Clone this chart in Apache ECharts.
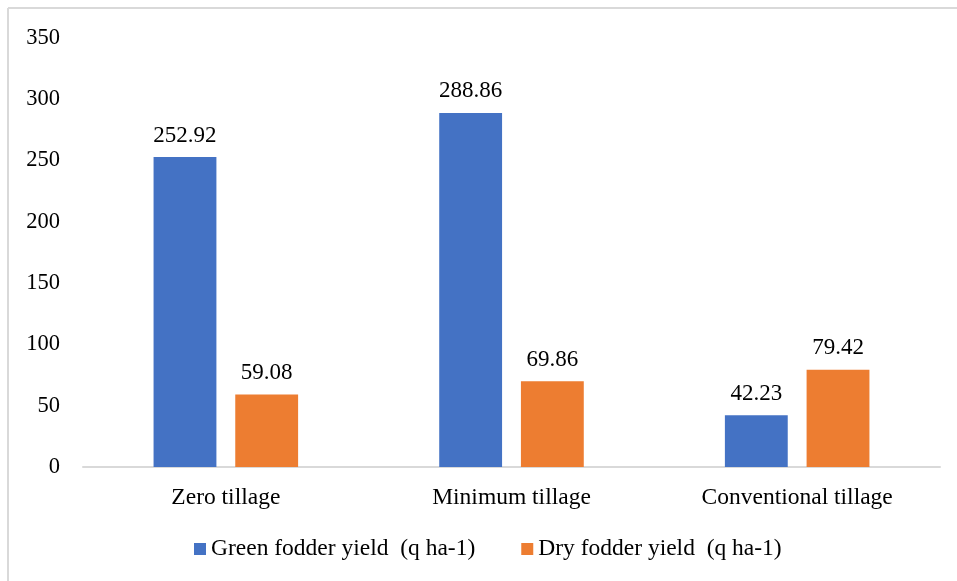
<!DOCTYPE html>
<html><head><meta charset="utf-8">
<script src="https://cdn.jsdelivr.net/npm/echarts@6/dist/echarts.min.js"></script>
<style>html,body{margin:0;padding:0;background:#fff}#c{width:957px;height:581px}</style>
</head><body><div id="c"></div>
<script>
const categories = ['Zero tillage', 'Minimum tillage', 'Conventional tillage'];
const greenYield = [252.92, 288.86, 42.23];
const dryYield = [59.08, 69.86, 79.42];
const seriesNames = ['Green fodder yield  (q ha-1)', 'Dry fodder yield  (q ha-1)'];
const yTicks = [0, 50, 100, 150, 200, 250, 300, 350];

const font = '"Liberation Serif", "Times New Roman", serif';
const chart = echarts.init(document.getElementById('c'), null, {renderer: 'canvas'});
chart.setOption({
  backgroundColor: '#fff',
  animation: false,
  textStyle: {fontFamily: font},
  graphic: [
    {type: 'line', shape: {x1: 8, y1: 8, x2: 957, y2: 8}, style: {stroke: '#d9d9d9', lineWidth: 2}},
    {type: 'line', shape: {x1: 8, y1: 8, x2: 8, y2: 581}, style: {stroke: '#d9d9d9', lineWidth: 2}}
  ],
  grid: {left: 83, right: 17, top: 38, bottom: 114, containLabel: false},
  legend: {
    top: 532, left: 189,
    itemWidth: 12, itemHeight: 12, itemGap: 46,
    icon: 'rect',
    textStyle: {fontFamily: font, fontSize: 23.5, color: '#000'},
    data: seriesNames
  },
  xAxis: {
    type: 'category', data: categories,
    axisLine: {lineStyle: {color: '#d9d9d9', width: 2}},
    axisTick: {show: false},
    axisLabel: {fontFamily: font, fontSize: 23.5, color: '#000', margin: 19}
  },
  yAxis: {
    type: 'value', min: yTicks[0], max: yTicks[yTicks.length - 1], interval: 50,
    axisLine: {show: false}, axisTick: {show: false},
    splitLine: {show: false},
    axisLabel: {fontFamily: font, fontSize: 22.5, color: '#000', margin: 23}
  },
  series: [
    {name: seriesNames[0], type: 'bar', data: greenYield, barWidth: '22%', barGap: '30%',
     itemStyle: {color: '#4472C4'},
     label: {show: true, position: 'top', distance: 10, fontFamily: font, fontSize: 23, color: '#000', formatter: p => p.value.toFixed(2)}},
    {name: seriesNames[1], type: 'bar', data: dryYield, barWidth: '22%', barGap: '30%',
     itemStyle: {color: '#ED7D31'},
     label: {show: true, position: 'top', distance: 10, fontFamily: font, fontSize: 23, color: '#000', formatter: p => p.value.toFixed(2)}}
  ]
});
</script></body></html>
